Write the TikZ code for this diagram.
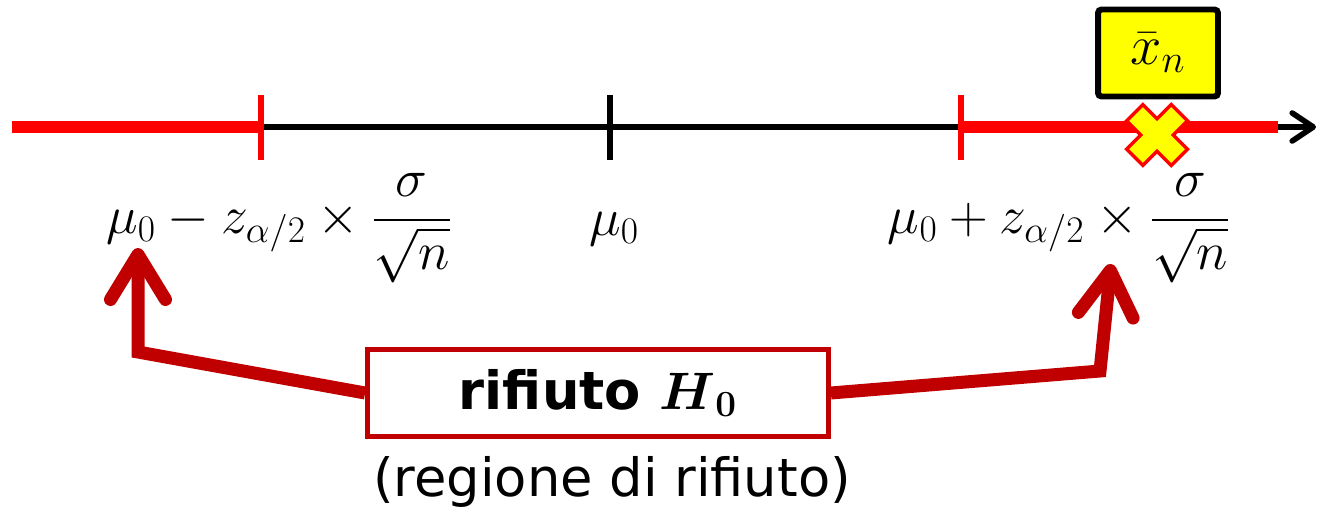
\RequirePackage{fix-cm}
\documentclass[tikz,border=0pt]{standalone}
\usepackage{amsmath,amssymb}
\usepackage[no-math]{fontspec}
\setmainfont{DejaVu Sans}
\usetikzlibrary{arrows.meta,positioning}
\definecolor{Ink}{HTML}{000000}
\definecolor{Reject}{HTML}{FF0000}
\definecolor{DarkRed}{HTML}{C00000}
\definecolor{Mark}{HTML}{FFFF00}
\tikzset{
  axisline/.style={line width=3.2pt,draw=Ink,-{Straight Barb[length=0.42cm,width=0.56cm,round]}},
  rejectline/.style={line width=6.8pt,draw=Reject},
  tickmark/.style={line width=3.2pt},
  lbl/.style={font=\fontsize{30}{36}\selectfont,inner sep=0pt,text=Ink},
  mathlbl/.style={lbl,font=\fontsize{30.5}{36}\selectfont},
  regionbox/.style={draw=DarkRed,line width=2.8pt,minimum width=9.22cm,minimum height=1.74cm,inner sep=0pt,fill=white,font=\fontsize{30}{36}\selectfont\bfseries},
  markbox/.style={draw=Ink,line width=3.4pt,rounded corners=2pt,fill=Mark,minimum width=2.4cm,minimum height=1.74cm,inner sep=0pt,font=\fontsize{32}{38}\selectfont},
  pointer/.style={-{Straight Barb[length=0.9cm,width=1.1cm,round]},line width=7.4pt,draw=DarkRed}
}
\begin{document}
\begin{tikzpicture}[x=0.02cm,y=-0.02cm,node distance=3.5mm]
\useasboundingbox (0,0) rectangle (1318,510);
% asse
\coordinate (start) at (12,127);
\coordinate (tL) at (261,127);
\coordinate (tM) at (610,127);
\coordinate (tR) at (961,127);
\coordinate (stopR) at (1278,127);
\coordinate (end) at (1316,127);
\draw[axisline] (tL) -- (end);
\draw[rejectline] (start) -- (tL);
\draw[rejectline] (tR) -- (stopR);
\draw[tickmark,draw=Reject] ([yshift=0.64cm]tL) -- ([yshift=-0.66cm]tL);
\draw[tickmark,draw=Ink] ([yshift=0.64cm]tM) -- ([yshift=-0.66cm]tM);
\draw[tickmark,draw=Reject] ([yshift=0.64cm]tR) -- ([yshift=-0.66cm]tR);
% valore osservato
\coordinate (xobs) at (1157,135);
\draw[Reject,line width=15pt] ([shift={(-0.47cm,0.47cm)}]xobs) -- ([shift={(0.47cm,-0.47cm)}]xobs)
  ([shift={(-0.47cm,-0.47cm)}]xobs) -- ([shift={(0.47cm,0.47cm)}]xobs);
\draw[Mark,line width=11pt] ([shift={(-0.42cm,0.42cm)}]xobs) -- ([shift={(0.42cm,-0.42cm)}]xobs)
  ([shift={(-0.42cm,-0.42cm)}]xobs) -- ([shift={(0.42cm,0.42cm)}]xobs);
\node[markbox] (xbar) at (1158,53) {$\bar{x}_n$};
% etichette
\node[mathlbl,anchor=base] (lo) at (279,233) {$\mu_0 - z_{\alpha/2}\times\dfrac{\sigma}{\sqrt{n}}$};
\node[mathlbl,anchor=base] (mu) at (614,235) {$\mu_0$};
\node[mathlbl,anchor=base] (hi) at (1059,233) {$\mu_0 + z_{\alpha/2}\times\dfrac{\sigma}{\sqrt{n}}$};
% regione di rifiuto
\node[regionbox] (box) at (598,393) {rifiuto $\boldsymbol{H}_{\mathbf{0}}$};
\node[lbl,below=of box,xshift=0.28cm] (sub) {(regione di rifiuto)};
\coordinate (bendL) at (138,352);
\coordinate (tipL) at (138,248);
\coordinate (bendR) at (1100,371);
\coordinate (tipR) at (1111,264);
\draw[pointer] (box.west) -- (bendL) -- (tipL);
\draw[pointer] (box.east) -- (bendR) -- (tipR);
\end{tikzpicture}
\end{document}
